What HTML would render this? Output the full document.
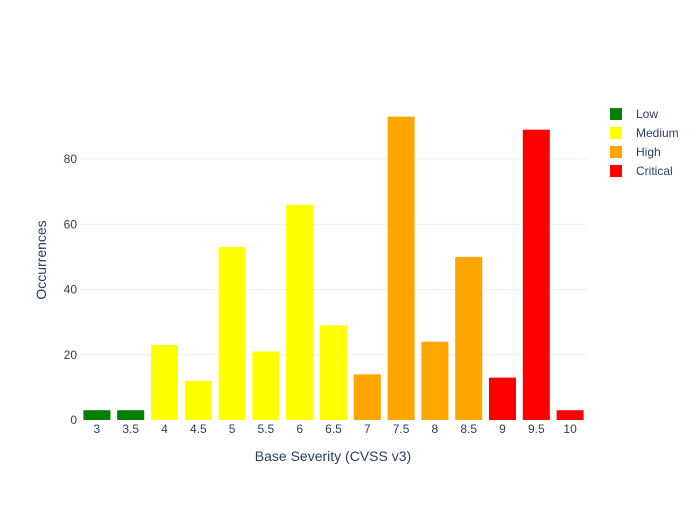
<!DOCTYPE html>
<html><head><meta charset="utf-8"><style>
body{margin:0;background:#fff;font-family:"Liberation Sans",sans-serif}
svg text{font-family:"Liberation Sans",sans-serif;fill:#2a3f5f}
</style></head><body>
<svg id="chart" width="700" height="500" xmlns="http://www.w3.org/2000/svg">
<g id="grid"></g>
<g id="bars"></g>
<g id="xt"></g>
<g id="yt"></g>
<text x="333" y="461" font-size="14" text-anchor="middle">Base Severity (CVSS v3)</text>
<text transform="translate(46,260) rotate(-90)" font-size="14" text-anchor="middle">Occurrences</text>
<g id="legend"></g>
</svg>
<script>
const categories=[3,3.5,4,4.5,5,5.5,6,6.5,7,7.5,8,8.5,9,9.5,10];
const values=[3,3,23,12,53,21,66,29,14,93,24,50,13,89,3];
const levels=["Low","Low","Medium","Medium","Medium","Medium","Medium","Medium","High","High","High","High","Critical","Critical","Critical"];
const legendNames=["Low","Medium","High","Critical"];
const yTicks=[0,20,40,60,80];
const colors={Low:"#008000",Medium:"#ffff00",High:"#ffa500",Critical:"#ff0000"};
const NS="http://www.w3.org/2000/svg";
const L=80,R=587,T=100,B=420,yMax=98.1;
const step=(R-L)/categories.length;
const xc=i=>L+step*(i+0.5);
const ys=v=>B-(v/yMax)*(B-T);
function mk(tag,attrs,parent,text){const e=document.createElementNS(NS,tag);for(const k in attrs)e.setAttribute(k,attrs[k]);if(text!==undefined)e.textContent=text;document.getElementById(parent).appendChild(e);return e;}
yTicks.forEach(t=>{
  if(t>0){const g=mk("line",{x1:L,x2:R,y1:ys(t),y2:ys(t),stroke:"#ebf0f8","stroke-width":1},"grid");
  
  }
  const l=mk("text",{x:L-3,y:ys(t)+4,"font-size":12,"text-anchor":"end"},"yt",String(t));
  
  
});
const bw=step*0.8;
categories.forEach((c,i)=>{
  const r=mk("rect",{x:xc(i)-bw/2,y:ys(values[i]),width:bw,height:B-ys(values[i]),fill:colors[levels[i]]},"bars");
  
  
  const t=mk("text",{x:xc(i),y:B+13,"font-size":12,"text-anchor":"middle"},"xt",String(c));
  
  
});
legendNames.forEach((n,i)=>{
  const y=114+i*19;
  const s=mk("rect",{x:610,y:y-6,width:12,height:12,fill:colors[n]},"legend");
  
  
  const t=mk("text",{x:636,y:y+4,"font-size":12},"legend",n);
  
  
});
</script>
</body></html>
